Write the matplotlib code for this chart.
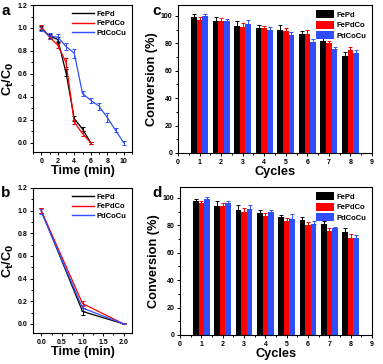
import numpy as np
import matplotlib
matplotlib.use("Agg")
import matplotlib.pyplot as plt
from matplotlib.ticker import MultipleLocator
from matplotlib.lines import Line2D

plt.rcParams['font.family'] = ['Liberation Sans', 'DejaVu Sans']
plt.rcParams['font.weight'] = 'bold'
plt.rcParams['axes.labelweight'] = 'bold'

names = ["FePd", "FePdCo", "PdCoCu"]
colors = ["black", "red", "#2f4fff"]

# panel a: Ct/C0 vs time
t_a = [[0, 1, 2, 3, 4, 5, 6],
       [0, 1, 2, 3, 4, 5, 6],
       [0, 1, 2, 3, 4, 5, 6, 7, 8, 9, 10]]
c_a = [[1.00, 0.93, 0.90, 0.61, 0.21, 0.12, 0.00],
       [1.01, 0.92, 0.85, 0.70, 0.18, 0.08, 0.00],
       [0.99, 0.93, 0.92, 0.84, 0.78, 0.43, 0.37, 0.32, 0.22, 0.11, 0.00]]
e_a = [[0.02, 0.02, 0.02, 0.03, 0.02, 0.02, 0.01],
       [0.02, 0.02, 0.02, 0.04, 0.02, 0.02, 0.01],
       [0.02, 0.03, 0.03, 0.03, 0.04, 0.02, 0.02, 0.03, 0.04, 0.02, 0.02]]

# panel b
t_b = [0, 1, 2]
c_b = [[1.00, 0.11, 0.00],
       [1.00, 0.18, 0.00],
       [0.99, 0.14, 0.00]]
e_b = [[0.02, 0.03, 0.005],
       [0.02, 0.02, 0.005],
       [0.02, 0.03, 0.005]]

# panels c, d: conversion over cycles
cycles = np.arange(1, 9)
conv_c = [[99, 96, 93, 91, 90, 87, 82, 71],
          [97, 96, 92, 91, 89, 87, 80, 75],
          [100, 96, 94, 90, 86, 81, 76, 73]]
err_c = [[2.5, 3.5, 3, 2.5, 3.5, 2, 2.5, 2.5],
         [2, 2.5, 3, 2, 2.5, 2.5, 2, 2.5],
         [1.5, 1.5, 3, 2, 2.5, 2, 1, 2.5]]
conv_d = [[98, 94, 91, 89, 86, 84, 81, 75],
          [96, 94, 90, 87, 83, 80, 76, 71],
          [99, 96, 92, 90, 85, 81, 78, 71]]
err_d = [[1.5, 3.5, 3.5, 2, 1.5, 2, 2, 3],
         [2, 2, 3, 2, 2.5, 2.5, 2, 2.5],
         [1.5, 1.5, 2.5, 1.5, 3, 2, 1, 2]]

fig = plt.figure(figsize=(3.83, 3.64), dpi=100)
ax_a = fig.add_axes([0.0862, 0.5824, 0.2585, 0.4038])
ax_b = fig.add_axes([0.0862, 0.0852, 0.2585, 0.3984])
ax_c = fig.add_axes([0.4648, 0.5797, 0.5065, 0.4066])
ax_d = fig.add_axes([0.4700, 0.0797, 0.5013, 0.4066])

tick_fs = 5
label_fs = 9.2

def style(ax):
    for s in ax.spines.values():
        s.set_linewidth(0.8)
    ax.tick_params(which='both', direction='out', labelsize=tick_fs, width=0.7, pad=1.5)
    ax.tick_params(which='major', length=2.5)
    ax.tick_params(which='minor', length=1.5)
    for lab in ax.get_xticklabels() + ax.get_yticklabels():
        lab.set_fontweight('bold')

# a
for t, c, e, col in zip(t_a, c_a, e_a, colors):
    ax_a.errorbar(t, c, yerr=e, color=col, lw=0.9, capsize=1.5, elinewidth=0.7,
                  capthick=0.7)
ax_a.set_xlim(-1, 11)
ax_a.set_ylim(-0.08, 1.2)
ax_a.xaxis.set_major_locator(MultipleLocator(2))
ax_a.xaxis.set_minor_locator(MultipleLocator(1))

# b
for c, e, col in zip(c_b, e_b, colors):
    ax_b.errorbar(t_b, c, yerr=e, color=col, lw=0.9, capsize=1.5, elinewidth=0.7,
                  capthick=0.7)
ax_b.set_xlim(-0.2, 2.2)
ax_b.set_ylim(-0.08, 1.2)
ax_b.xaxis.set_major_locator(MultipleLocator(0.5))
ax_b.xaxis.set_minor_locator(MultipleLocator(0.25))

for ax in (ax_a, ax_b):
    ax.yaxis.set_major_locator(MultipleLocator(0.2))
    ax.yaxis.set_minor_locator(MultipleLocator(0.1))
    ax.set_xlabel("Time (min)", fontsize=label_fs, labelpad=0)
    ax.set_ylabel("C$_\\mathbf{t}$/C$_\\mathbf{0}$", fontsize=label_fs, labelpad=1)
    style(ax)
    handles = [Line2D([], [], color=col, lw=1.0) for col in colors]
    ax.legend(handles, names, loc='upper right', frameon=False, handlelength=2.8,
              handletextpad=0.4, labelspacing=0.3, borderaxespad=0.3,
              prop={'weight': 'bold', 'size': 5.5})

# c, d
w = 0.26
for ax, conv, err in ((ax_c, conv_c, err_c), (ax_d, conv_d, err_d)):
    for i, (v, e, col, nm) in enumerate(zip(conv, err, colors, names)):
        ax.bar(cycles + (i - 1) * w, v, width=w, color=col, label=nm,
               yerr=[np.zeros(len(e)), e], capsize=1.5,
               error_kw=dict(ecolor=col, elinewidth=0.7, capthick=0.7))
    ax.set_xlim(0, 9)
    ax.set_ylim(0, 108)
    ax.xaxis.set_major_locator(MultipleLocator(1))
    ax.xaxis.set_minor_locator(MultipleLocator(0.5))
    ax.yaxis.set_major_locator(MultipleLocator(20))
    ax.yaxis.set_minor_locator(MultipleLocator(10))
    ax.set_xlabel("Cycles", fontsize=label_fs, labelpad=0)
    ax.set_ylabel("Conversion (%)", fontsize=label_fs, labelpad=2)
    style(ax)
    ax.legend(loc='upper right', frameon=False, handlelength=2.4, handleheight=1.2,
              handletextpad=0.3, labelspacing=0.25, borderaxespad=0.3,
              prop={'weight': 'bold', 'size': 5.5})

# panel letters
fig.text(0.003, 0.99, "a", fontsize=11, fontweight='bold', va='top')
fig.text(0.003, 0.49, "b", fontsize=11, fontweight='bold', va='top')
fig.text(0.398, 0.99, "c", fontsize=11, fontweight='bold', va='top')
fig.text(0.398, 0.49, "d", fontsize=11, fontweight='bold', va='top')

fig.savefig("out.png", dpi=100)
